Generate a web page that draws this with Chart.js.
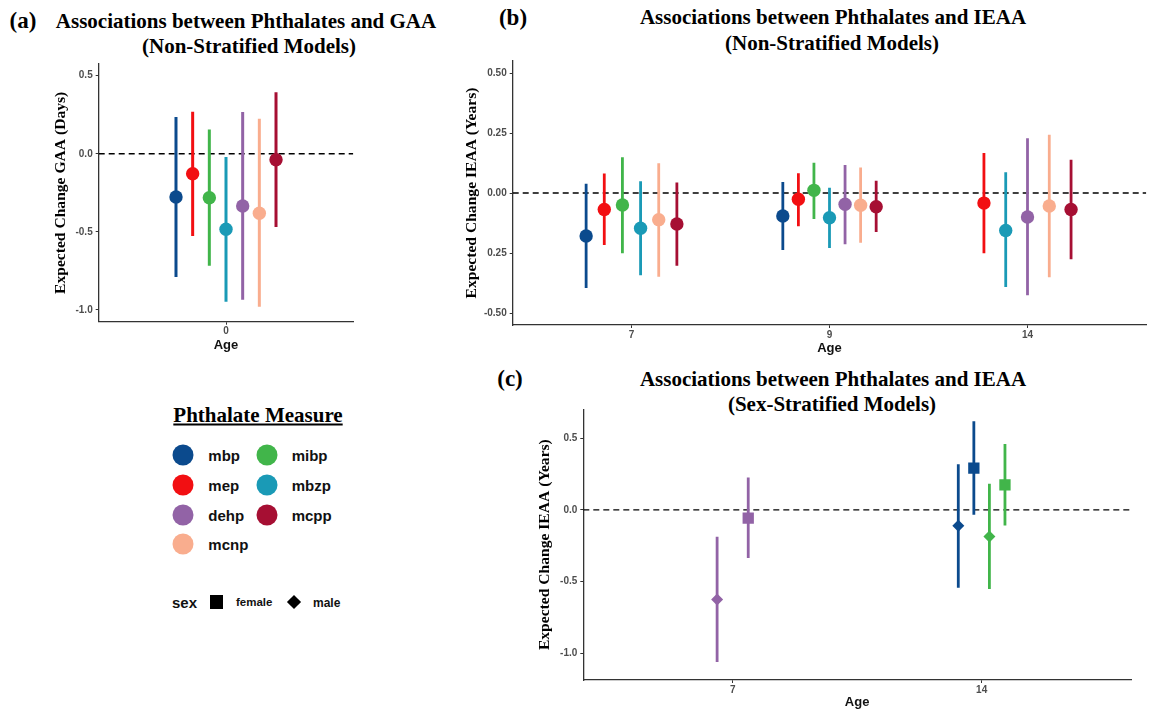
<!DOCTYPE html>
<html>
<head>
<meta charset="utf-8">
<script src="https://cdn.jsdelivr.net/npm/chart.js@4.4.1/dist/chart.umd.min.js"></script>
<style>
  body { margin: 0; background: #fff; width: 1153px; height: 713px; position: relative; overflow: hidden; font-family: "Liberation Sans", Arial, sans-serif; }
  canvas { position: absolute; }
  .serif { position: absolute; font-family: "Liberation Serif", "Times New Roman", serif; font-weight: bold; color: #000; white-space: nowrap; line-height: 1; transform: translate(-50%, -50%); }
  .tag { font-size: 23px; }
  .ttl { font-size: 21px; }
  .leg { position: absolute; white-space: nowrap; line-height: 1; font-weight: bold; color: #111; transform: translateY(-50%); }
  .dot { position: absolute; width: 21px; height: 21px; border-radius: 50%; transform: translate(-50%, -50%); }
</style>
</head>
<body>
<div class="serif tag" style="left:23px;top:20px">(a)</div>
<div class="serif ttl" style="left:246px;top:21px">Associations between Phthalates and GAA</div>
<div class="serif ttl" style="left:249px;top:46px">(Non-Stratified Models)</div>

<div class="serif tag" style="left:513px;top:17px">(b)</div>
<div class="serif ttl" style="left:833px;top:17px">Associations between Phthalates and IEAA</div>
<div class="serif ttl" style="left:832px;top:43px">(Non-Stratified Models)</div>

<div class="serif tag" style="left:510px;top:378px">(c)</div>
<div class="serif ttl" style="left:833px;top:379px">Associations between Phthalates and IEAA</div>
<div class="serif ttl" style="left:832px;top:404px">(Sex-Stratified Models)</div>

<canvas id="chartA" width="320" height="300" style="left:40px;top:55px"></canvas>
<canvas id="chartB" width="698" height="310" style="left:455px;top:50px"></canvas>
<canvas id="chartC" width="620" height="313" style="left:525px;top:400px"></canvas>

<div id="legend"></div>

<script>
// phthalate measures, in plotting (dodge) order
const measures = ['mbp', 'mep', 'mibp', 'mbzp', 'dehp', 'mcnp', 'mcpp'];
const measureColors = ['#0B4A8D', '#F20F12', '#41B54A', '#1A9AB6', '#9263A6', '#F9AD8E', '#A60F33'];

// (a) GAA, non-stratified
const agesA = ['0'];
const estA = [-0.277, -0.128, -0.281, -0.483, -0.334, -0.381, -0.038];
const loA = [-0.789, -0.526, -0.717, -0.948, -0.935, -0.980, -0.468];
const hiA = [0.236, 0.270, 0.155, -0.020, 0.268, 0.224, 0.394];
const yTicksA = [-1, -0.5, 0, 0.5];
const yLabelsA = ['-1.0', '-0.5', '0.0', '0.5'];

// (b) IEAA, non-stratified, one array per age (null = not estimated)
const agesB = ['7', '9', '14'];
const estB7 = [-0.179, -0.069, -0.050, -0.147, null, -0.111, -0.129];
const loB7 = [-0.396, -0.217, -0.251, -0.343, null, -0.349, -0.303];
const hiB7 = [0.039, 0.081, 0.149, 0.049, null, 0.124, 0.044];
const estB9 = [-0.096, -0.026, 0.011, -0.103, -0.047, -0.051, -0.057];
const loB9 = [-0.238, -0.139, -0.108, -0.229, -0.214, -0.207, -0.163];
const hiB9 = [0.046, 0.082, 0.126, 0.022, 0.117, 0.106, 0.051];
const estB14 = [null, -0.042, null, -0.156, -0.100, -0.054, -0.069];
const loB14 = [null, -0.251, null, -0.392, -0.426, -0.351, -0.276];
const hiB14 = [null, 0.167, null, 0.086, 0.228, 0.243, 0.139];
const yTicksB = [-0.5, -0.25, 0, 0.25, 0.5];
const yLabelsB = ['-0.50', '0.25', '0.00', '0.25', '0.50'];

// (c) IEAA, sex-stratified
const agesC = ['7', '14'];
const ageC = ['7', '7', '14', '14', '14', '14'];
const measureC = ['dehp', 'dehp', 'mbp', 'mbp', 'mibp', 'mibp'];
const sexC = ['male', 'female', 'male', 'female', 'male', 'female'];
const estC = [-0.624, -0.058, -0.111, 0.290, -0.186, 0.174];
const loC = [-1.060, -0.336, -0.543, -0.035, -0.552, -0.109];
const hiC = [-0.188, 0.225, 0.318, 0.617, 0.181, 0.459];
const yTicksC = [-1, -0.5, 0, 0.5];
const yLabelsC = ['-1.0', '-0.5', '0.0', '0.5'];

// legend layout (ggplot fills by column)
const legendCol1 = ['mbp', 'mep', 'dehp', 'mcnp'];
const legendCol2 = ['mibp', 'mbzp', 'mcpp'];
const sexLevels = ['female', 'male'];

const colorOf = (m) => measureColors[measures.indexOf(m)];
const sexStyle = { female: 'rect', male: 'rectRot' };
const tickFont = { family: 'Liberation Sans', size: 10, weight: 'bold' };
const tickColor = '#4d4d4d';
const axisColor = '#333';

// dodge offset like ggplot position_dodge
const dodge = (ageIdx, j, n, width) => ageIdx + 1 + (j - (n - 1) / 2) * (width / n);

// one line dataset per colour, bars separated by null gaps
const barSet = (color, segs, width) => ({
    type: 'line',
    data: segs.flatMap(s => [{ x: s.x, y: s.lo }, { x: s.x, y: s.hi }, { x: s.x, y: null }]),
    borderColor: color,
    borderWidth: width,
    pointRadius: 0,
    spanGaps: false,
    fill: false,
    order: 1
});

const zeroLine = (xMin, xMax) => ({
    type: 'line',
    data: [{ x: xMin, y: 0 }, { x: xMax, y: 0 }],
    borderColor: '#000',
    borderWidth: 1.4,
    borderDash: [6, 4],
    pointRadius: 0,
    fill: false,
    order: 2
});

const makeOptions = (p) => ({
    responsive: false,
    animation: false,
    events: [],
    layout: { padding: { left: 0, right: p.padRight, top: p.padTop, bottom: 0 } },
    plugins: { legend: { display: false }, tooltip: { enabled: false } },
    scales: {
        x: {
            type: 'linear',
            min: 0.4,
            max: p.ages.length + 0.6,
            afterBuildTicks: (s) => { s.ticks = p.ages.map((a, i) => ({ value: i + 1 })); },
            afterFit: (s) => { s.height = p.xHeight; },
            ticks: { callback: (v, i) => p.ages[i], font: tickFont, color: tickColor, padding: 1, maxRotation: 0, autoSkip: false },
            grid: { drawOnChartArea: false, drawTicks: true, tickLength: 3, color: axisColor },
            border: { display: true, color: axisColor, width: 1.3 },
            title: { display: true, text: 'Age', color: '#111', font: { family: 'Liberation Sans', size: 13, weight: 'bold' }, padding: { top: 0, bottom: p.ageBottom } }
        },
        y: {
            type: 'linear',
            min: p.yMin,
            max: p.yMax,
            afterBuildTicks: (s) => { s.ticks = p.yTicks.map(v => ({ value: v })); },
            afterFit: (s) => { s.width = p.yWidth; },
            ticks: { callback: (v, i) => p.yLabels[i], font: tickFont, color: tickColor, padding: 3, autoSkip: false },
            grid: { drawOnChartArea: false, drawTicks: true, tickLength: 3, color: axisColor },
            border: { display: true, color: axisColor, width: 1.3 },
            title: { display: true, text: p.yTitle, color: '#000', font: { family: 'Liberation Serif', size: 15.6, weight: 'bold' }, padding: { top: p.yTitleTop, bottom: 0 } }
        }
    }
});

// ---------- (a) ----------
const pointsA = [];
const barsA = [];
measures.forEach((m, j) => {
    const x = dodge(0, j, measures.length, 0.55);
    pointsA.push({ type: 'scatter', data: [{ x: x, y: estA[j] }], backgroundColor: measureColors[j], borderWidth: 0, pointRadius: 6.7, order: 0 });
    barsA.push(barSet(measureColors[j], [{ x: x, lo: loA[j], hi: hiA[j] }], 3));
});
new Chart(document.getElementById('chartA'), {
    type: 'scatter',
    data: { datasets: [...pointsA, ...barsA, zeroLine(0.4, agesA.length + 0.6)] },
    options: makeOptions({
        ages: agesA, yMin: -1.075, yMax: 0.575, yTicks: yTicksA, yLabels: yLabelsA,
        yTitle: 'Expected Change GAA (Days)', padTop: 8, padRight: 6.7, yWidth: 58.7, xHeight: 33.3,
        yTitleTop: 12.1, ageBottom: 2.2
    })
});

// ---------- (b) ----------
const estB = [estB7, estB9, estB14];
const loB = [loB7, loB9, loB14];
const hiB = [hiB7, hiB9, hiB14];
const pointsB = [];
const barsB = [];
measures.forEach((m, j) => {
    const pts = [];
    const segs = [];
    agesB.forEach((a, i) => {
        if (estB[i][j] === null) return;
        const present = measures.map((mm, k) => k).filter(k => estB[i][k] !== null);
        const x = dodge(i, present.indexOf(j), present.length, 0.55);
        pts.push({ x: x, y: estB[i][j] });
        segs.push({ x: x, lo: loB[i][j], hi: hiB[i][j] });
    });
    pointsB.push({ type: 'scatter', data: pts, backgroundColor: measureColors[j], borderWidth: 0, pointRadius: 6.7, order: 0 });
    barsB.push(barSet(measureColors[j], segs, 2.8));
});
new Chart(document.getElementById('chartB'), {
    type: 'scatter',
    data: { datasets: [...pointsB, ...barsB, zeroLine(0.4, agesB.length + 0.6)] },
    options: makeOptions({
        ages: agesB, yMin: -0.55, yMax: 0.55, yTicks: yTicksB, yLabels: yLabelsB,
        yTitle: 'Expected Change IEAA (Years)', padTop: 11, padRight: 1.3, yWidth: 57.7, xHeight: 35,
        yTitleTop: 8.1, ageBottom: 3.9
    })
});

// ---------- (c) ----------
const pointsC = [];
const barsC = [];
estC.forEach((e, r) => {
    const i = agesC.indexOf(ageC[r]);
    const rows = ageC.map((a, k) => k).filter(k => ageC[k] === ageC[r]);
    const x = dodge(i, rows.indexOf(r), rows.length, 0.25);
    const color = colorOf(measureC[r]);
    const isFemale = sexC[r] === 'female';
    pointsC.push({ type: 'scatter', data: [{ x: x, y: e }], backgroundColor: color, borderWidth: 0,
        pointStyle: sexStyle[sexC[r]], pointRadius: isFemale ? 8 : 6, order: 0 });
    barsC.push(barSet(color, [{ x: x, lo: loC[r], hi: hiC[r] }], 2.8));
});
new Chart(document.getElementById('chartC'), {
    type: 'scatter',
    data: { datasets: [...pointsC, ...barsC, zeroLine(0.4, agesC.length + 0.6)] },
    options: makeOptions({
        ages: agesC, yMin: -1.185, yMax: 0.70, yTicks: yTicksC, yLabels: yLabelsC,
        yTitle: 'Expected Change IEAA (Years)', padTop: 9.3, padRight: 14, yWidth: 58.3, xHeight: 33,
        yTitleTop: 11.1, ageBottom: 2.5
    })
});

// ---------- shared legend ----------
const legend = document.getElementById('legend');
let html = '<div class="serif" style="left:258px;top:415px;font-size:21px;text-decoration:underline">Phthalate Measure</div>';
const rowY = [455, 484.5, 515, 544];
[legendCol1, legendCol2].forEach((col, c) => {
    const cx = c === 0 ? 183.3 : 266.7;
    col.forEach((m, r) => {
        html += '<div class="dot" style="left:' + cx + 'px;top:' + rowY[r] + 'px;background:' + colorOf(m) + '"></div>';
        html += '<div class="leg" style="left:' + (cx + 25) + 'px;top:' + rowY[r] + 'px;font-size:15px">' + m + '</div>';
    });
});
html += '<div class="leg" style="left:172px;top:602px;font-size:15px">sex</div>';
html += '<div style="position:absolute;left:210px;top:595px;width:13px;height:14px;background:#000"></div>';
html += '<div class="leg" style="left:236px;top:603px;font-size:11.5px">' + sexLevels[0] + '</div>';
html += '<div style="position:absolute;left:289px;top:597px;width:10px;height:10px;background:#000;transform:rotate(45deg)"></div>';
html += '<div class="leg" style="left:313px;top:603px;font-size:12px">' + sexLevels[1] + '</div>';
legend.innerHTML = html;
</script>
</body>
</html>
